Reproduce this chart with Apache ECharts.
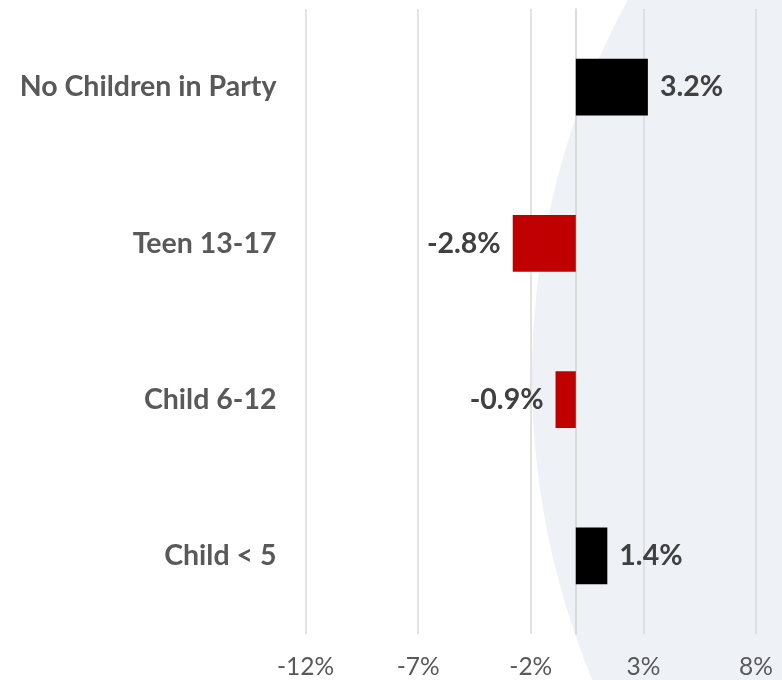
<!DOCTYPE html>
<html>
<head>
<meta charset="utf-8">
<script src="https://cdn.jsdelivr.net/npm/echarts@6/dist/echarts.min.js"></script>
<style>
  html, body { margin: 0; padding: 0; background: #ffffff; }
  #chart { width: 782px; height: 680px; }
</style>
</head>
<body>
<div id="chart"></div>
<script>
// Change in share of travel parties, by youngest child in the party
const categories = ['No Children in Party', 'Teen 13-17', 'Child 6-12', 'Child < 5'];
const changeValues = [3.2, -2.8, -0.9, 1.4];
const xTicks = { min: -12, max: 8, step: 5 };

const FONT = 'Lato, "Open Sans", sans-serif';

const chart = echarts.init(document.getElementById('chart'));

chart.setOption({
  animation: false,
  backgroundColor: '#ffffff',
  graphic: [{
    type: 'circle',
    z: -100,
    silent: true,
    shape: { cx: 1323, cy: 377, r: 791 },
    style: { fill: '#EEF1F6' }
  }],
  grid: { left: 305.5, right: 26, top: 9, bottom: 45, containLabel: false },
  xAxis: {
    type: 'value',
    min: xTicks.min,
    max: xTicks.max,
    interval: xTicks.step,
    axisLine: { show: false },
    axisTick: { show: false },
    splitLine: { show: true, lineStyle: { color: '#D9D9D9', width: 1.5 } },
    axisLabel: {
      formatter: v => v + '%',
      color: '#595959',
      fontFamily: FONT,
      fontSize: 24.5,
      margin: 21
    }
  },
  yAxis: {
    type: 'category',
    data: categories,
    inverse: true,
    axisLine: { show: true, onZero: true, lineStyle: { color: '#D0D0D0', width: 1.5 } },
    axisTick: { show: false },
    splitLine: { show: false },
    axisLabel: {
      color: '#595959',
      fontFamily: FONT,
      fontWeight: 'bold',
      fontSize: 28.5,
      margin: 29
    }
  },
  series: [{
    type: 'bar',
    barWidth: '36.4%',
    data: changeValues.map(v => ({
      value: v,
      itemStyle: { color: v >= 0 ? '#000000' : '#C00000' },
      label: { position: v >= 0 ? 'right' : 'left' }
    })),
    label: {
      show: true,
      distance: 12,
      formatter: p => p.value.toFixed(1) + '%',
      color: '#404040',
      fontFamily: FONT,
      fontWeight: 'bold',
      fontSize: 28.5
    }
  }]
});
</script>
</body>
</html>
